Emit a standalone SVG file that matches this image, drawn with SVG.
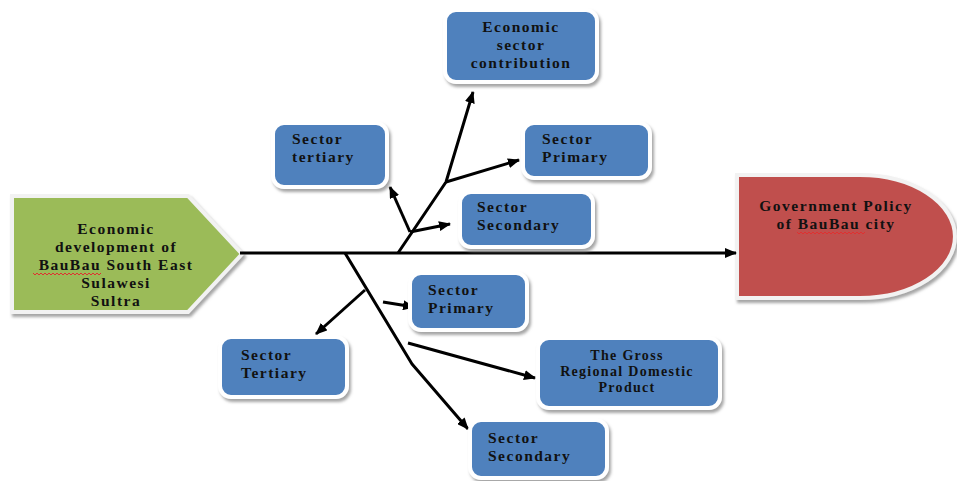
<svg xmlns="http://www.w3.org/2000/svg" width="957" height="481" viewBox="0 0 957 481">
<style>
.t{font-family:"Liberation Serif","Times New Roman",serif;font-weight:bold;font-size:15.5px;letter-spacing:1.5px;fill:#111}
.s{font-size:14px;letter-spacing:1.3px}
.c{text-anchor:middle}
.box{fill:#4F81BD;stroke:#FFFFFF;stroke-width:4;filter:url(#sh)}
.conn{fill:none;stroke:#000;stroke-width:3;stroke-linejoin:round}
.sq{fill:none;stroke:#E03030;stroke-width:1}
</style>
<defs>
<filter id="sh" x="-10%" y="-10%" width="125%" height="130%">
<feDropShadow dx="2" dy="3" stdDeviation="1.5" flood-color="#7f7f7f" flood-opacity="0.7"/>
</filter>
<marker id="ah" markerUnits="userSpaceOnUse" markerWidth="12" markerHeight="10" refX="11" refY="5" orient="auto">
<path d="M0,0 L12,5 L0,10 Z" fill="#000"/>
</marker>
</defs>
<rect width="957" height="481" fill="#FFFFFF"/>

<g id="source">
<polygon points="12,196 188,196 242,254 188,312 12,312" fill="#9BBB59" stroke="#F2F2F2" stroke-width="4" filter="url(#sh)"/>
<text class="t c" x="116" y="234">Economic</text>
<text class="t c" x="116" y="252">development of</text>
<text class="t c" x="116" y="270">BauBau South East</text>
<text class="t c" x="116" y="288">Sulawesi</text>
<text class="t c" x="116" y="306">Sultra</text>
<path class="sq" d="M33,273 l2,2 l2,-2 l2,2 l2,-2 l2,2 l2,-2 l2,2 l2,-2 l2,2 l2,-2 l2,2 l2,-2 l2,2 l2,-2 l2,2 l2,-2 l2,2 l2,-2 l2,2 l2,-2 l2,2 l2,-2 l2,2 l2,-2 l2,2 l2,-2 l2,2 l2,-2 l2,2 l2,-2 l2,2 l2,-2 l2,2 l2,-2"/>
</g>

<g id="target">
<path d="M737,175 H860 A95,61.5 0 0 1 860,298 H737 Z" fill="#C0504D" stroke="#F2F2F2" stroke-width="4" filter="url(#sh)"/>
<text class="t c" x="836" y="211">Government Policy</text>
<text class="t c" x="836" y="229">of BauBau city</text>
<path class="sq" d="M797,232 l2,2 l2,-2 l2,2 l2,-2 l2,2 l2,-2 l2,2 l2,-2 l2,2 l2,-2 l2,2 l2,-2 l2,2 l2,-2 l2,2 l2,-2 l2,2 l2,-2 l2,2 l2,-2 l2,2 l2,-2 l2,2 l2,-2 l2,2 l2,-2 l2,2 l2,-2 l2,2 l2,-2 l2,2 l2,-2 l2,2 l2,-2"/>
</g>

<g id="connectors">
<line class="conn" x1="240" y1="253" x2="736" y2="253" marker-end="url(#ah)"/>
<polyline class="conn" points="398,253 446,182 473,92" marker-end="url(#ah)"/>
<line class="conn" x1="446" y1="182" x2="519" y2="160" marker-end="url(#ah)"/>
<line class="conn" x1="410" y1="232" x2="390" y2="187" marker-end="url(#ah)"/>
<line class="conn" x1="410" y1="232" x2="450" y2="224" marker-end="url(#ah)"/>
<polyline class="conn" points="345,253 412,364 468,429" marker-end="url(#ah)"/>
<line class="conn" x1="365" y1="290" x2="316" y2="334" marker-end="url(#ah)"/>
<line class="conn" x1="383" y1="302" x2="414" y2="307" marker-end="url(#ah)"/>
<line class="conn" x1="408" y1="343" x2="535" y2="378" marker-end="url(#ah)"/>
</g>

<g id="economic-sector-contribution">
<rect class="box" x="445" y="10" width="152" height="72" rx="11"/>
<text class="t c" x="521" y="32">Economic</text>
<text class="t c" x="521" y="50">sector</text>
<text class="t c" x="521" y="68">contribution</text>
</g>

<g id="sector-tertiary-upper">
<rect class="box" x="273" y="123" width="114" height="64" rx="11"/>
<text class="t" x="292" y="144">Sector</text>
<text class="t" x="292" y="162">tertiary</text>
</g>

<g id="sector-primary-upper">
<rect class="box" x="523" y="123" width="127" height="55" rx="11"/>
<text class="t" x="542" y="144">Sector</text>
<text class="t" x="542" y="162">Primary</text>
</g>

<g id="sector-secondary-upper">
<rect class="box" x="460" y="192" width="133" height="55" rx="11"/>
<text class="t" x="477" y="212">Sector</text>
<text class="t" x="477" y="230">Secondary</text>
</g>

<g id="sector-primary-lower">
<rect class="box" x="410" y="273" width="117" height="57" rx="11"/>
<text class="t" x="428" y="295">Sector</text>
<text class="t" x="428" y="313">Primary</text>
</g>

<g id="sector-tertiary-lower">
<rect class="box" x="220" y="337" width="127" height="60" rx="11"/>
<text class="t" x="241" y="360">Sector</text>
<text class="t" x="241" y="378">Tertiary</text>
</g>

<g id="grdp">
<rect class="box" x="538" y="338" width="182" height="70" rx="11"/>
<text class="t s c" x="627" y="360">The Gross</text>
<text class="t s c" x="627" y="376">Regional Domestic</text>
<text class="t s c" x="627" y="392">Product</text>
</g>

<g id="sector-secondary-lower">
<rect class="box" x="470" y="420" width="137" height="58" rx="11"/>
<text class="t" x="488" y="443">Sector</text>
<text class="t" x="488" y="461">Secondary</text>
</g>
</svg>
